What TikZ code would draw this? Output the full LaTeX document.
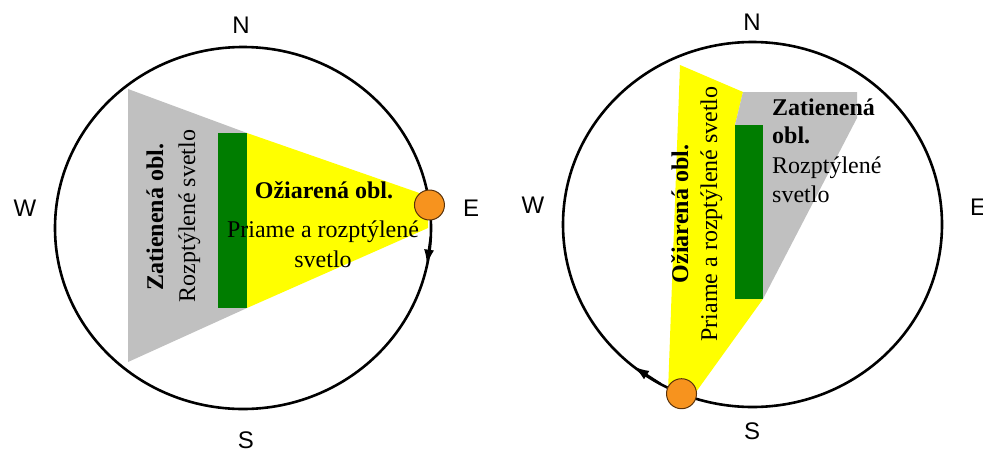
\documentclass[tikz,border=0pt]{standalone}
\usepackage{fontspec}
\setmainfont{Liberation Serif}
\newfontfamily\sansf{Liberation Sans}
\usetikzlibrary{arrows.meta}
\definecolor{shadegray}{RGB}{192,192,192}
\definecolor{wallgreen}{RGB}{0,125,0}
\definecolor{sunyellow}{RGB}{255,255,0}
\definecolor{sunorange}{RGB}{247,147,30}
\definecolor{sunrim}{RGB}{90,50,10}
\begin{document}
\begin{tikzpicture}[x=1pt,y=-1pt,
  compass/.style={font=\sansf\fontsize{24}{24}\selectfont, inner sep=0pt},
  lbl/.style={font=\fontsize{24}{24}\selectfont, inner sep=0pt},
  lblb/.style={font=\bfseries\fontsize{24}{24}\selectfont, inner sep=0pt},
  orbit/.style={line width=2.6pt, draw=black},
  sun/.style={circle, fill=sunorange, draw=sunrim, line width=1pt, minimum size=30pt, inner sep=0pt},
  tiparrow/.style={line width=2.6pt, -{Latex[length=16pt,width=10pt]}}
]
\useasboundingbox (0,0) rectangle (983,453);
\fill[white] (0,0) rectangle (983,453);

% ---------- left diagram ----------
\fill[shadegray] (128,89) -- (247,133) -- (247,308) -- (128,362) -- cycle;
\fill[sunyellow] (247,133) -- (428,196) -- (428,228) -- (247,308) -- cycle;
\fill[wallgreen] (218,133) rectangle (247,308);
\draw[orbit] (243,228) ellipse [x radius=188pt, y radius=181pt];
\coordinate (la1) at ({243+188*cos(3)},{228+181*sin(3)});
\coordinate (la2) at ({243+188*cos(12)},{228+181*sin(12)});
\draw[tiparrow] (la1) -- (la2);
\node[sun] (lsun) at ({243+188*cos(-7.3)},{228+181*sin(-7.3)}) {};

\node[lblb, anchor=base] (lirr) at (324,198) {Ožiarená obl.};
\node[lbl, anchor=base] (ldir1) at (323,237) {Priame a rozptýlené};
\node[lbl, anchor=base] (ldir2) at (323,267) {svetlo};
\node[lblb, rotate=90, anchor=base] (lsh1) at (163,217) {Zatienená obl.};
\node[lbl, rotate=90, anchor=base] (lsh2) at (195,216) {Rozptýlené svetlo};

\node[compass] (ln) at (241,25) {N};
\node[compass] (lw) at (25,208) {W};
\node[compass] (le) at (471,208) {E};
\node[compass] (ls) at (246,440) {S};

% ---------- right diagram ----------
\fill[sunyellow] (680,65) -- (743,92) -- (735,125) -- (735,299) -- (763,299) -- (696,392) -- (668,392) -- cycle;
\fill[shadegray] (743,92) -- (857,92) -- (857,118) -- (763,299) -- (735,299) -- (735,125) -- cycle;
\fill[wallgreen] (735,125) rectangle (763,299);
\draw[orbit] (752.5,224.5) ellipse [x radius=189.5pt, y radius=182.5pt];
\coordinate (ra1) at ({752.5+189.5*cos(119)},{224.5+182.5*sin(119)});
\coordinate (ra2) at ({752.5+189.5*cos(129)},{224.5+182.5*sin(129)});
\draw[tiparrow] (ra1) -- (ra2);
\node[sun] (rsun) at ({752.5+189.5*cos(112)},{224.5+182.5*sin(112)}) {};

\node[lblb, rotate=90, anchor=base] (rirr) at (688,214) {Ožiarená obl.};
\node[lbl, rotate=90, anchor=base] (rdir) at (717,214) {Priame a rozptýlené svetlo};
\node[lblb, anchor=base west] (rsh1) at (772,115) {Zatienená};
\node[lblb, anchor=base west] (rsh2) at (772,143) {obl.};
\node[lbl, anchor=base west] (rsh3) at (772,173) {Rozptýlené};
\node[lbl, anchor=base west] (rsh4) at (772,202) {svetlo};

\node[compass] (rn) at (752,22) {N};
\node[compass] (rw) at (533,205) {W};
\node[compass] (re) at (978,207) {E};
\node[compass] (rs) at (752,431) {S};
\end{tikzpicture}
\end{document}
